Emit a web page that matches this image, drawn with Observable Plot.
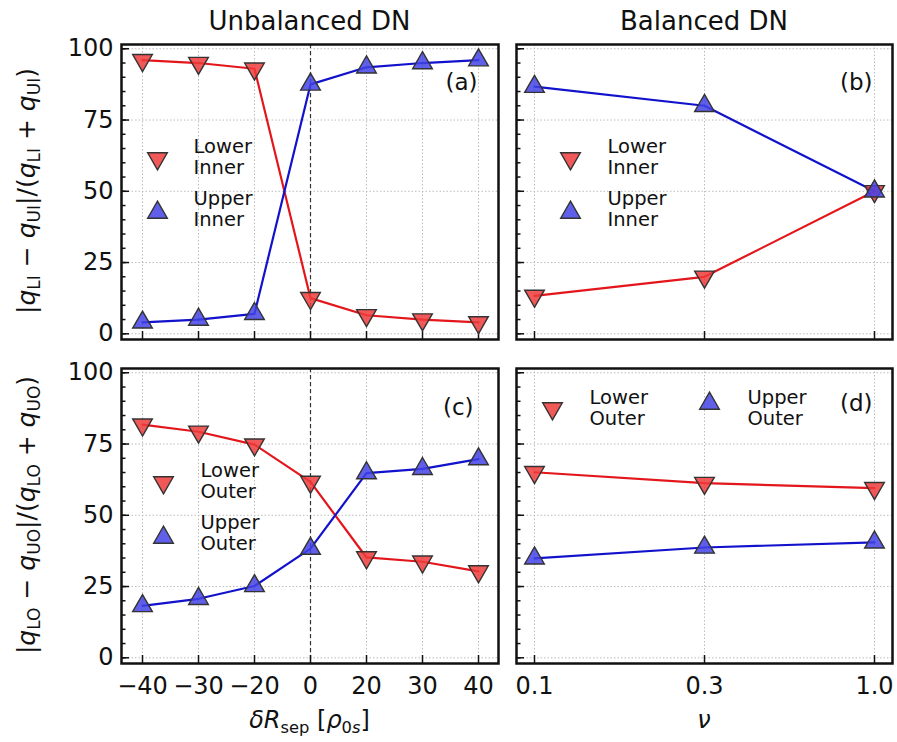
<!DOCTYPE html>
<html>
<head>
<meta charset="utf-8">
<script src="https://cdn.jsdelivr.net/npm/d3@7"></script>
<script src="https://cdn.jsdelivr.net/npm/@observablehq/plot@0.6"></script>
<style>
  body { margin: 0; background: #fff; font-family: "DejaVu Sans", sans-serif; }
  #fig { position: relative; width: 897px; height: 742px; overflow: hidden; color: #111; }
  .abs { position: absolute; white-space: nowrap; }
  .title { font-size: 26px; transform: translate(-50%, -50%); }
  .ylab { font-size: 25px; transform: translate(-50%, -50%) rotate(-90deg); }
  .xlab { font-size: 24px; transform: translate(-50%, -50%); }
  sub { font-size: 68%; vertical-align: -0.3em; line-height: 0; }
  i { font-style: italic; }
</style>
</head>
<body>
<div id="fig"></div>
<script>
// ---------------- data ----------------
const dRsep = [-40, -30, -20, 0, 20, 30, 40];
const nu = [0.1, 0.3, 1.0];

const innerLowerUnbal = [96, 95, 93, 12.5, 6.5, 5, 4];
const innerUpperUnbal = [4, 5, 7, 87.5, 93.5, 95, 96];
const innerLowerBal = [13.3, 20, 50];
const innerUpperBal = [86.7, 80, 50];

const outerLowerUnbal = [81.8, 79.3, 74.8, 61.7, 35.2, 33.7, 30.3];
const outerUpperUnbal = [18.2, 20.7, 25.2, 38.3, 64.8, 66.3, 69.7];
const outerLowerBal = [65.1, 61.3, 59.5];
const outerUpperBal = [34.9, 38.7, 40.5];

const yTicks = [0, 25, 50, 75, 100];
const yMinor = d3.range(0, 101, 5);
const zeroLine = [0];

const colTitles = ["Unbalanced DN", "Balanced DN"];
const panelTags = ["(a)", "(b)", "(c)", "(d)"];
const innerNames = ["Lower\nInner", "Upper\nInner"];
const outerNames = ["Lower\nOuter", "Upper\nOuter"];

// ---------------- style ----------------
const RED_FILL = "#ee3b3b", RED_LINE = "#e3161b";
const BLUE_FILL = "#4343e6", BLUE_LINE = "#1212cc";
const EDGE = "#333";
const FONT = "DejaVu Sans";

const fmtSep = d => (d < 0 ? "\u2212" + (-d) : String(d));
const fmtNu = d => d.toFixed(1);

function panel(o) {
  const lower = o.xs.map((x, i) => ({x, y: o.lower[i]}));
  const upper = o.xs.map((x, i) => ({x, y: o.upper[i]}));
  const tri = (fill, rot) => ({symbol: "triangle", rotate: rot, r: 7.3, fill, fillOpacity: 0.85, stroke: EDGE, strokeWidth: 1.4});
  const L = o.legend;
  return Plot.plot({
    width: o.width, height: o.height,
    marginTop: o.mt, marginBottom: o.mb, marginLeft: o.ml, marginRight: o.mr,
    style: {fontFamily: FONT, fontSize: "24px", color: "#111", background: "transparent", overflow: "visible"},
    x: {type: "point", domain: o.xs, padding: o.padding},
    y: {domain: [-2, 101.5]},
    marks: [
      Plot.gridY({ticks: yTicks, stroke: "#bdbdbd", strokeOpacity: 1, strokeDasharray: "1.5,2"}),
      Plot.gridX({stroke: "#bdbdbd", strokeOpacity: 1, strokeDasharray: "1.5,2"}),
      o.zero ? Plot.ruleX(zeroLine, {stroke: "#333", strokeWidth: 1.2, strokeDasharray: "4,3"}) : null,
      Plot.axisY({ticks: yMinor, tickSize: -4.5, fill: "none", stroke: "#111", strokeWidth: 1.5, label: null}),
      Plot.axisY({ticks: yTicks, tickSize: -8, tickPadding: 16, fill: o.yLabels ? "#111" : "none", stroke: "#111", strokeWidth: 1.5, fontSize: 24, label: null}),
      Plot.axisX({tickSize: -8, tickPadding: 21.5, tickFormat: o.fmt, fill: o.xLabels ? "#111" : "none", stroke: "#111", strokeWidth: 1.5, fontSize: 24, label: null}),
      Plot.line(lower, {x: "x", y: "y", stroke: RED_LINE, strokeWidth: 2.2}),
      Plot.line(upper, {x: "x", y: "y", stroke: BLUE_LINE, strokeWidth: 2.2}),
      Plot.dot(lower, {x: "x", y: "y", ...tri(RED_FILL, 180)}),
      Plot.dot(upper, {x: "x", y: "y", ...tri(BLUE_FILL, 0)}),
      // legend
      Plot.dot([0], {frameAnchor: "top-left", dx: L.m1[0], dy: L.m1[1], ...tri(RED_FILL, 180)}),
      Plot.dot([0], {frameAnchor: "top-left", dx: L.m2[0], dy: L.m2[1], ...tri(BLUE_FILL, 0)}),
      Plot.text([o.names[0]], {frameAnchor: "top-left", dx: L.t1[0], dy: L.t1[1], textAnchor: "start", lineAnchor: "middle", fontSize: 19.5, lineHeight: 1.12, fill: "#111"}),
      Plot.text([o.names[1]], {frameAnchor: "top-left", dx: L.t2[0], dy: L.t2[1], textAnchor: "start", lineAnchor: "middle", fontSize: 19.5, lineHeight: 1.12, fill: "#111"}),
      Plot.text([o.tag], {frameAnchor: "top-right", dx: o.tagPos[0], dy: o.tagPos[1], textAnchor: "end", lineAnchor: "middle", fontSize: 23, fill: "#111"}),
      Plot.frame({stroke: "#111", strokeWidth: 2.5})
    ]
  });
}

const fig = document.getElementById("fig");
function place(el, left, top) {
  el.style.position = "absolute";
  el.style.left = left + "px";
  el.style.top = top + "px";
  fig.appendChild(el);
}

// (a)
place(panel({
  xs: dRsep, lower: innerLowerUnbal, upper: innerUpperUnbal, padding: 0.34, fmt: fmtSep,
  width: 500, height: 345, mt: 44, mb: 6, ml: 121, mr: 2, zero: true, yLabels: true, xLabels: false,
  names: innerNames, tag: panelTags[0], tagPos: [-21, 38],
  legend: {m1: [36, 114], m2: [36, 168], t1: [72, 112], t2: [72, 164]}
}), 0, 0);

// (b)
place(panel({
  xs: nu, lower: innerLowerBal, upper: innerUpperBal, padding: 0.103, fmt: fmtNu,
  width: 397, height: 345, mt: 44, mb: 6, ml: 16, mr: 5, zero: false, yLabels: false, xLabels: false,
  names: innerNames, tag: panelTags[1], tagPos: [-20, 38],
  legend: {m1: [54, 114], m2: [54, 168], t1: [91, 112], t2: [91, 164]}
}), 500, 0);

// (c)
place(panel({
  xs: dRsep, lower: outerLowerUnbal, upper: outerUpperUnbal, padding: 0.34, fmt: fmtSep,
  width: 500, height: 355, mt: 23, mb: 37, ml: 121, mr: 2, zero: true, yLabels: true, xLabels: true,
  names: outerNames, tag: panelTags[2], tagPos: [-25, 39],
  legend: {m1: [42, 114], m2: [42, 169], t1: [79, 112], t2: [79, 164]}
}), 0, 345);

// (d)
place(panel({
  xs: nu, lower: outerLowerBal, upper: outerUpperBal, padding: 0.103, fmt: fmtNu,
  width: 397, height: 355, mt: 23, mb: 37, ml: 16, mr: 5, zero: false, yLabels: false, xLabels: true,
  names: outerNames, tag: panelTags[3], tagPos: [-20, 35],
  legend: {m1: [36, 40], m2: [193, 35], t1: [73, 39], t2: [231, 39]}
}), 500, 345);

// titles and axis labels
function label(cls, html, x, y) {
  const d = document.createElement("div");
  d.className = "abs " + cls;
  d.innerHTML = html;
  d.style.left = x + "px";
  d.style.top = y + "px";
  fig.appendChild(d);
}
label("title", colTitles[0], 309.5, 21);
label("title", colTitles[1], 704, 21);
label("ylab", "|<i>q</i><sub>LI</sub> \u2212 <i>q</i><sub>UI</sub>|/(<i>q</i><sub>LI</sub> + <i>q</i><sub>UI</sub>)", 26, 191);
label("ylab", "|<i>q</i><sub>LO</sub> \u2212 <i>q</i><sub>UO</sub>|/(<i>q</i><sub>LO</sub> + <i>q</i><sub>UO</sub>)", 26, 515);
label("xlab", "<i>\u03b4R</i><sub>sep</sub> [<i>\u03c1</i><sub>0<i>s</i></sub>]", 309.5, 720);
label("xlab", "<i>\u03bd</i>", 704, 720);
</script>
</body>
</html>
